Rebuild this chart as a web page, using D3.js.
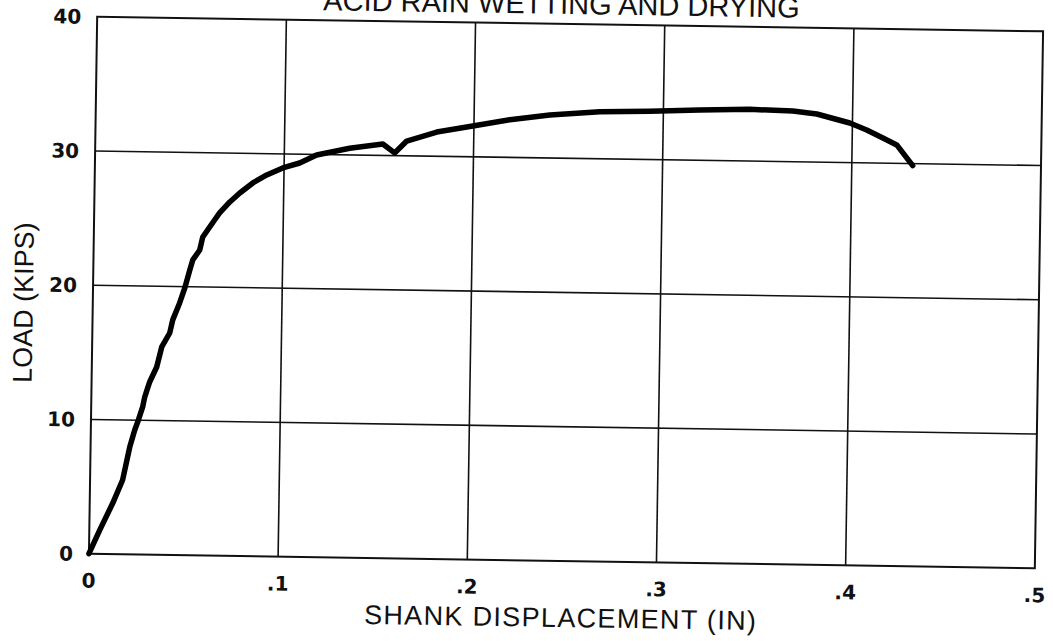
<!DOCTYPE html>
<html>
<head>
<meta charset="utf-8">
<script src="https://cdn.jsdelivr.net/npm/d3@7"></script>
<style>
  html, body { margin: 0; padding: 0; background: #fff; }
  svg { display: block; }
</style>
</head>
<body>
<script>
// Texts
const titleText = "ACID RAIN WETTING AND DRYING";
const xTitleText = "SHANK DISPLACEMENT (IN)";
const yTitleText = "LOAD (KIPS)";

// Axis ticks
const xTicks = [0, 0.1, 0.2, 0.3, 0.4, 0.5];
const xTickLabels = ["0", ".1", ".2", ".3", ".4", ".5"];
const yTicks = [0, 10, 20, 30, 40];
const yTickLabels = ["0", "10", "20", "30", "40"];

// Load–displacement record (in, kips)
const displacement = [0, 0.0055, 0.0122, 0.0172, 0.0207, 0.0232, 0.0247, 0.0272, 0.0282, 0.0307,
  0.0343, 0.0368, 0.0409, 0.0424, 0.0459, 0.0485, 0.0510, 0.0525, 0.0561, 0.0576,
  0.0601, 0.0637, 0.0663, 0.0716, 0.0768, 0.0836, 0.0909, 0.0993, 0.1082, 0.1171,
  0.1345, 0.152, 0.1583, 0.1646, 0.1804, 0.1994, 0.2189, 0.24, 0.2664, 0.2928,
  0.3192, 0.3456, 0.3684, 0.3811, 0.3986, 0.4076, 0.4157, 0.4236, 0.4322];
const load = [0, 1.77, 3.80, 5.53, 7.99, 9.27, 9.86, 10.99, 11.73, 12.86,
  13.98, 15.48, 16.53, 17.51, 18.78, 19.90, 21.25, 22.0, 22.75, 23.72,
  24.25, 25.0, 25.53, 26.36, 27.04, 27.80, 28.41, 28.95, 29.34, 29.96,
  30.5, 30.85, 30.2, 31.1, 31.8, 32.3, 32.8, 33.2, 33.5, 33.6,
  33.75, 33.85, 33.78, 33.58, 32.95, 32.45, 31.9, 31.37, 29.85];

const W = 1053, H = 641;
const plot = { left: 93, right: 1039, top: 24, bottom: 561 };

const svg = d3.select("body").append("svg")
  .attr("width", W).attr("height", H)
  .style("background", "#fff");

// the sheet sits slightly skewed on the page
const g = svg.append("g")
  .attr("transform", `rotate(0.88, ${(plot.left + plot.right) / 2}, ${(plot.top + plot.bottom) / 2})`);

const x = d3.scaleLinear().domain([0, 0.5]).range([plot.left, plot.right]);
const y = d3.scaleLinear().domain([0, 40]).range([plot.bottom, plot.top]);

const ink = "#111";

// grid lines
g.append("g").selectAll("line")
  .data(xTicks.slice(1, -1))
  .join("line")
  .attr("x1", d => x(d)).attr("x2", d => x(d))
  .attr("y1", plot.top).attr("y2", plot.bottom)
  .attr("stroke", ink).attr("stroke-width", 1.6);

g.append("g").selectAll("line")
  .data(yTicks.slice(1, -1))
  .join("line")
  .attr("x1", plot.left).attr("x2", plot.right)
  .attr("y1", d => y(d)).attr("y2", d => y(d))
  .attr("stroke", ink).attr("stroke-width", 1.6);

// frame
g.append("rect")
  .attr("x", plot.left).attr("y", plot.top)
  .attr("width", plot.right - plot.left).attr("height", plot.bottom - plot.top)
  .attr("fill", "none").attr("stroke", ink).attr("stroke-width", 2);

// tick labels
const tickFont = "'DejaVu Sans', sans-serif";
g.append("g").selectAll("text")
  .data(xTicks)
  .join("text")
  .attr("x", d => x(d))
  .attr("y", plot.bottom + 34)
  .attr("text-anchor", "middle")
  .attr("font-family", tickFont).attr("font-weight", "bold").attr("font-size", 20)
  .attr("fill", ink)
  .text((d, i) => xTickLabels[i]);

g.append("g").selectAll("text")
  .data(yTicks)
  .join("text")
  .attr("x", plot.left - 16)
  .attr("y", d => y(d))
  .attr("dy", "0.36em")
  .attr("text-anchor", "end")
  .attr("font-family", tickFont).attr("font-weight", "bold").attr("font-size", 20)
  .attr("fill", ink)
  .text((d, i) => yTickLabels[i]);

// titles
const titleFont = "'Liberation Sans', Arial, sans-serif";
g.append("text")
  .attr("x", 557).attr("y", 14)
  .attr("text-anchor", "middle")
  .attr("font-family", titleFont).attr("font-size", 29)
  .attr("fill", ink)
  .text(titleText);

g.append("text")
  .attr("x", 565).attr("y", 627)
  .attr("text-anchor", "middle")
  .attr("textLength", 392)
  .attr("lengthAdjust", "spacing")
  .attr("font-family", titleFont).attr("font-size", 27)
  .attr("fill", ink)
  .text(xTitleText);

g.append("text")
  .attr("transform", "translate(33, 311) rotate(-90)")
  .attr("text-anchor", "middle")
  .attr("font-family", titleFont).attr("font-size", 27)
  .attr("fill", ink)
  .text(yTitleText);

// curve
const pts = displacement.map((d, i) => [d, load[i]]);
const line = d3.line().x(d => x(d[0])).y(d => y(d[1]));
g.append("path")
  .datum(pts)
  .attr("d", line)
  .attr("fill", "none")
  .attr("stroke", "#000")
  .attr("stroke-width", 5.5)
  .attr("stroke-linejoin", "round")
  .attr("stroke-linecap", "round");
</script>
</body>
</html>
